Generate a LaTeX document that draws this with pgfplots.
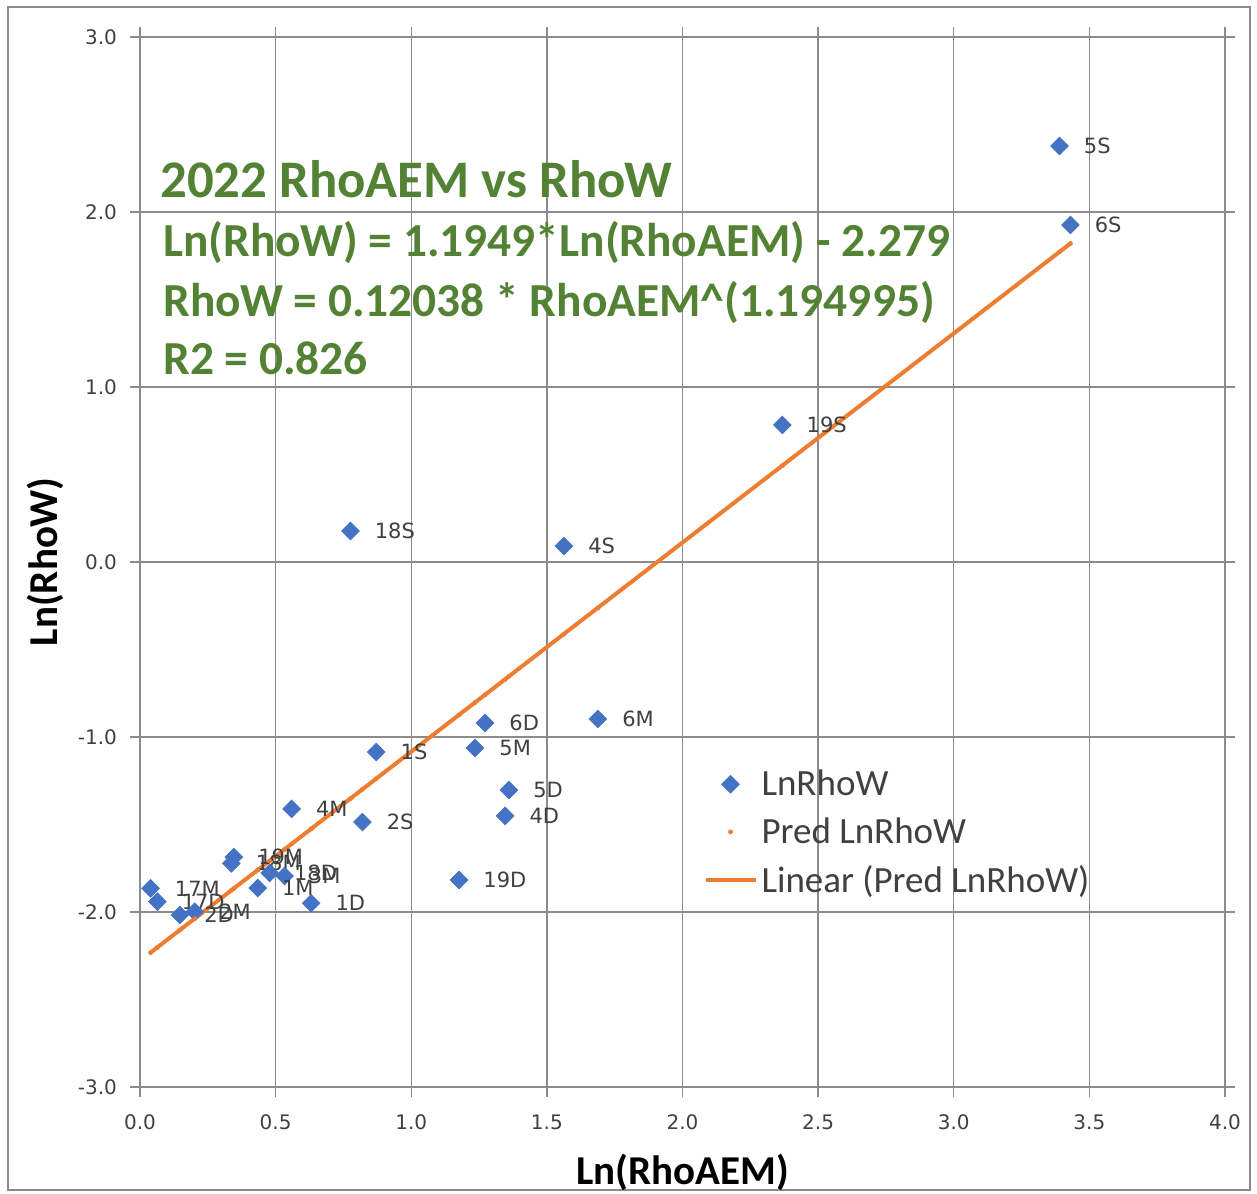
\documentclass[border=0pt]{standalone}
\usepackage{pgfplots}
\pgfplotsset{compat=1.18}
\usepackage{fontspec}
\setmainfont{Carlito}
\newfontfamily\tickfont{DejaVu Sans}
\definecolor{mblue}{HTML}{4472C4}
\definecolor{morange}{HTML}{ED7D31}
\definecolor{tgreen}{HTML}{548235}
\definecolor{tgray}{HTML}{404040}
\definecolor{ggray}{HTML}{8C8C8C}
\begin{document}
\begin{tikzpicture}
\path[use as bounding box] (0,0) rectangle (628.5pt,596.5pt);
\draw[ggray, line width=0.6pt] (4pt,1.5pt) rectangle (625pt,593pt);
\begin{axis}[
  at={(70pt,53pt)}, anchor=south west,
  scale only axis, width=542.5pt, height=525pt,
  xmin=0, xmax=4, ymin=-3, ymax=3,
  xtick={0,0.5,...,4}, ytick={-3,-2,...,3},
  grid=major,
  major grid style={ggray, line width=0.7pt},
  axis line style={ggray, line width=0.7pt},
  tick style={ggray, line width=0.7pt},
  tick align=outside, major tick length=5pt,
  xticklabel style={/pgf/number format/fixed, /pgf/number format/fixed zerofill, /pgf/number format/precision=1, yshift=-5.5pt},
  yticklabel style={/pgf/number format/fixed, /pgf/number format/fixed zerofill, /pgf/number format/precision=1, xshift=-3pt},
  /pgf/number format/assume math mode=true,
  every tick label/.append style={font=\tickfont\fontsize{10}{12}\selectfont, text=tgray},
  xlabel={Ln(RhoAEM)}, ylabel={Ln(RhoW)},
  xlabel style={font=\bfseries\fontsize{20.5}{24}\selectfont, text=black, at={(rel axis cs:0.5,0)}, anchor=center, yshift=-42.5pt},
  ylabel style={font=\bfseries\fontsize{20.5}{24}\selectfont, text=black, at={(axis description cs:-0.0876,0.5)}, anchor=center, rotate=0},
  legend style={at={(axis cs:2.076,-1.163)}, anchor=north west, draw=none, fill=none,
    font=\fontsize{18.5}{22}\selectfont, text=tgray, row sep=5.5pt, inner sep=0pt,
    /tikz/every even column/.append style={column sep=3pt}},
  legend cell align=left,
  legend image code/.code={\draw[#1] (0pt,0pt) -- (25pt,0pt);},
]
\addplot[only marks, mark=square*, mark size=3.1pt, mark options={rotate=45}, color=mblue,
  nodes near coords, point meta=explicit symbolic,
  nodes near coords style={anchor=west, xshift=12pt, inner sep=0pt, font=\tickfont\fontsize{10.5}{12}\selectfont, text=tgray, rotate=0},
  legend image code/.code={\draw[mark repeat=2,mark phase=2] plot coordinates {(0pt,0pt) (12.5pt,0pt) (25pt,0pt)};}]
table[meta=label] {
x y label
3.390 2.377 5S
3.430 1.926 6S
2.368 0.783 19S
0.776 0.177 18S
1.563 0.091 4S
1.272 -0.920 6D
1.688 -0.897 6M
0.871 -1.086 1S
1.235 -1.063 5M
1.360 -1.303 5D
1.346 -1.451 4D
0.559 -1.411 4M
0.820 -1.486 2S
1.176 -1.817 19D
0.346 -1.686 19M
0.337 -1.722 18M
0.478 -1.777 18D
0.533 -1.794 3M
0.434 -1.863 1M
0.631 -1.950 1D
0.039 -1.865 17M
0.064 -1.941 17D
0.147 -2.017 2D
0.202 -1.998 2M
};
\addlegendentry{LnRhoW}
\addplot[only marks, mark=*, mark size=1pt, color=morange,
  legend image code/.code={\draw[mark repeat=2,mark phase=2] plot coordinates {(0pt,0pt) (12.5pt,0pt) (25pt,0pt)};}]
coordinates {
(3.390,1.772) (3.430,1.820) (2.368,0.551) (0.776,-1.352) (1.563,-0.412)
(1.272,-0.759) (1.688,-0.263) (0.871,-1.238) (1.235,-0.803) (1.360,-0.654)
(1.346,-0.671) (0.559,-1.611) (0.820,-1.299) (1.176,-0.874) (0.346,-1.866)
(0.337,-1.876) (0.478,-1.708) (0.533,-1.642) (0.434,-1.760) (0.631,-1.525)
(0.039,-2.232) (0.064,-2.203) (0.147,-2.103) (0.202,-2.038)
};
\addlegendentry{Pred LnRhoW}
\addplot[morange, line width=2pt, no marks] coordinates {(0.039,-2.232) (3.430,1.820)};
\addlegendentry{Linear (Pred LnRhoW)}
\node[anchor=base west, inner sep=0pt, text=tgreen, font=\bfseries\fontsize{26.4}{30}\selectfont] at (axis cs:0.0735,2.08) {2022 RhoAEM vs RhoW};
\node[anchor=base west, inner sep=0pt, text=tgreen, font=\bfseries\fontsize{23.7}{28}\selectfont] at (axis cs:0.0846,1.743) {Ln(RhoW) = 1.1949*Ln(RhoAEM) - 2.279};
\node[anchor=base west, inner sep=0pt, text=tgreen, font=\bfseries\fontsize{23.7}{28}\selectfont] at (axis cs:0.0846,1.40) {RhoW = 0.12038 * RhoAEM\^{}(1.194995)};
\node[anchor=base west, inner sep=0pt, text=tgreen, font=\bfseries\fontsize{23.7}{28}\selectfont] at (axis cs:0.0846,1.069) {R2 = 0.826};
\end{axis}
\end{tikzpicture}
\end{document}
